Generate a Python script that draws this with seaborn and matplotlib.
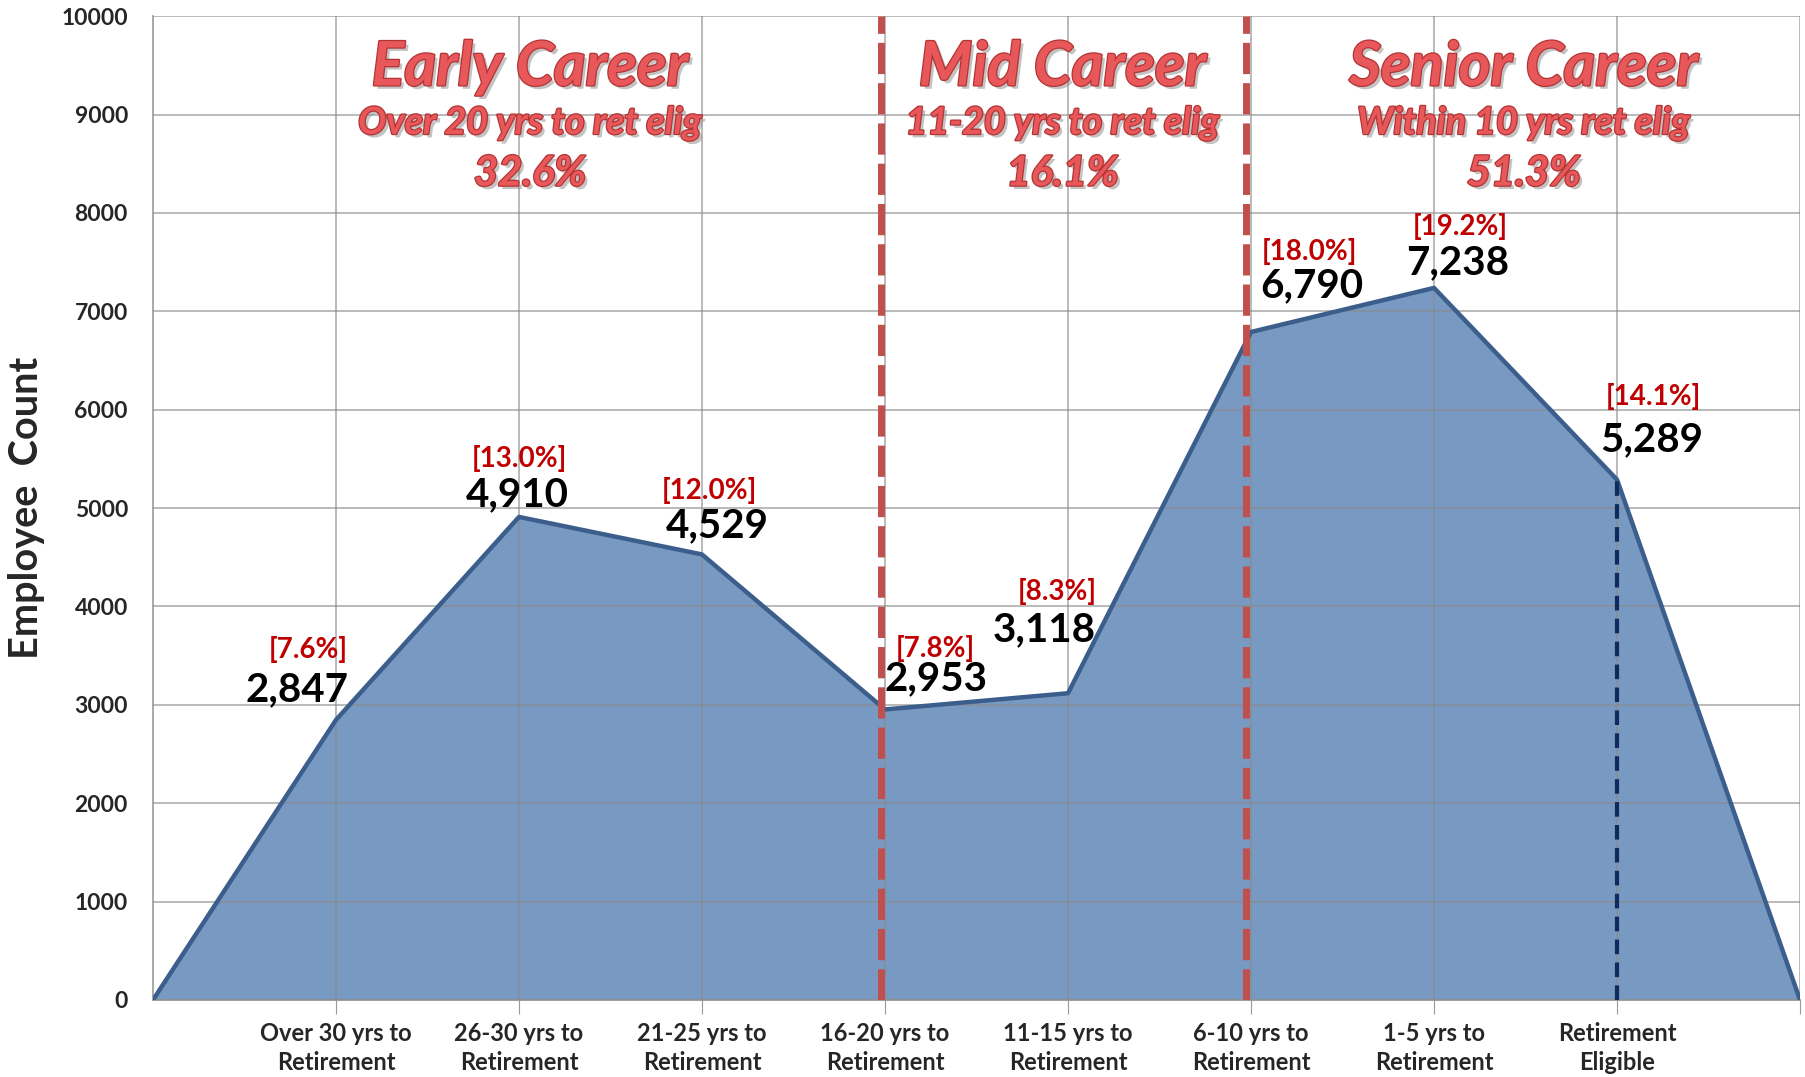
import matplotlib
matplotlib.use('Agg')
import matplotlib.pyplot as plt
import matplotlib.patheffects as pe
import seaborn as sns
import pandas as pd

# chart data
categories = ['Over 30 yrs to\nRetirement', '26-30 yrs to\nRetirement', '21-25 yrs to\nRetirement',
              '16-20 yrs to\nRetirement', '11-15 yrs to\nRetirement', '6-10 yrs to\nRetirement',
              '1-5 yrs to\nRetirement', 'Retirement\nEligible']
counts = [2847, 4910, 4529, 2953, 3118, 6790, 7238, 5289]
pct = [7.6, 13.0, 12.0, 7.8, 8.3, 18.0, 19.2, 14.1]
phases = ['Early Career', 'Mid Career', 'Senior Career']
phase_sub = ['Over 20 yrs to ret elig', '11-20 yrs to ret elig', 'Within 10 yrs ret elig']
phase_pct = ['32.6%', '16.1%', '51.3%']

# area series padded with zero at both ends, like the original area chart
df = pd.DataFrame({'pos': list(range(len(counts) + 2)),
                   'count': [0] + counts + [0]})

sns.set_style('white')
plt.rcParams['font.family'] = ['Lato', 'DejaVu Sans']

fig = plt.figure(figsize=(18.06, 10.77), dpi=100)
ax = fig.add_axes([0.0847, 0.0715, 0.912, 0.9135])

ax.fill_between(df['pos'], df['count'], color='#7899C1', zorder=1, linewidth=0)
sns.lineplot(data=df, x='pos', y='count', color='#3B5E8C', linewidth=3.2, ax=ax, zorder=4)

ax.set_xlim(0, len(counts) + 1)
ax.set_ylim(0, 10000)
ax.set_yticks(range(0, 10001, 1000))
ax.set_xticks(range(1, len(counts) + 2))
ax.set_xticklabels(categories + [''], fontsize=17, fontweight='bold', linespacing=1.3)
for lab in ax.get_yticklabels():
    lab.set_fontsize(16.5)
    lab.set_fontweight('bold')
ax.tick_params(axis='x', length=10, color='#999999', direction='out', pad=6, bottom=True)
ax.tick_params(axis='y', length=0, pad=18)
ax.grid(True, color='#8a8a8a', linewidth=1.1, alpha=0.75, zorder=2)
ax.set_axisbelow(False)
for s in ['top', 'right']:
    ax.spines[s].set_visible(False)
for s in ['left', 'bottom']:
    ax.spines[s].set_color('#999999')
    ax.spines[s].set_linewidth(1.2)
ax.set_xlabel('')
ax.set_ylabel('Employee  Count', fontsize=28.5, fontweight='bold', labelpad=12)

# phase separators
for xv in [3.98, 5.97]:
    ax.axvline(xv, color='#C0504D', linewidth=5, linestyle=(0, (4.5, 1.3)), zorder=5)
ax.plot([8, 8], [0, counts[-1]], color='#0F2A5C', linewidth=3, linestyle=(0, (3.5, 2)), zorder=5)

# point labels
val_off = [(-28, 22), (-1, 16), (11, 21), (37, 22), (-17, 46), (44, 33), (17, 18), (25, 29)]
pct_off = [(-20, 51), (0, 42), (5, 46), (36, 44), (-8, 73), (42, 58), (19, 44), (26, 60)]
for i, (c, p) in enumerate(zip(counts, pct)):
    ax.annotate(f'{c:,}', (i + 1, c), xytext=val_off[i], textcoords='offset points',
                ha='center', va='center', fontsize=29, fontweight='bold', color='black', zorder=6)
    ax.annotate(f'[{p:.1f}%]', (i + 1, c), xytext=pct_off[i], textcoords='offset points',
                ha='center', va='center', fontsize=20, fontweight='bold', color='#C00000', zorder=6)

# phase headers
effects = [pe.SimplePatchShadow(offset=(2.5, -2.5), shadow_rgbFace='#888888', alpha=0.5),
           pe.Stroke(linewidth=1.8, foreground='#B33434'), pe.Normal()]
for xc, t, s, p in zip([2.06, 4.97, 7.49], phases, phase_sub, phase_pct):
    ax.text(xc, 9480, t, ha='center', va='center', fontsize=44, fontweight='bold',
            style='italic', color='#E8585A', path_effects=effects, zorder=6)
    ax.text(xc, 8920, s, ha='center', va='center', fontsize=27, fontweight='bold',
            style='italic', color='#E8585A', path_effects=effects, zorder=6)
    ax.text(xc, 8400, p, ha='center', va='center', fontsize=30, fontweight='bold',
            style='italic', color='#E8585A', path_effects=effects, zorder=6)

fig.savefig('out.png', dpi=100)
